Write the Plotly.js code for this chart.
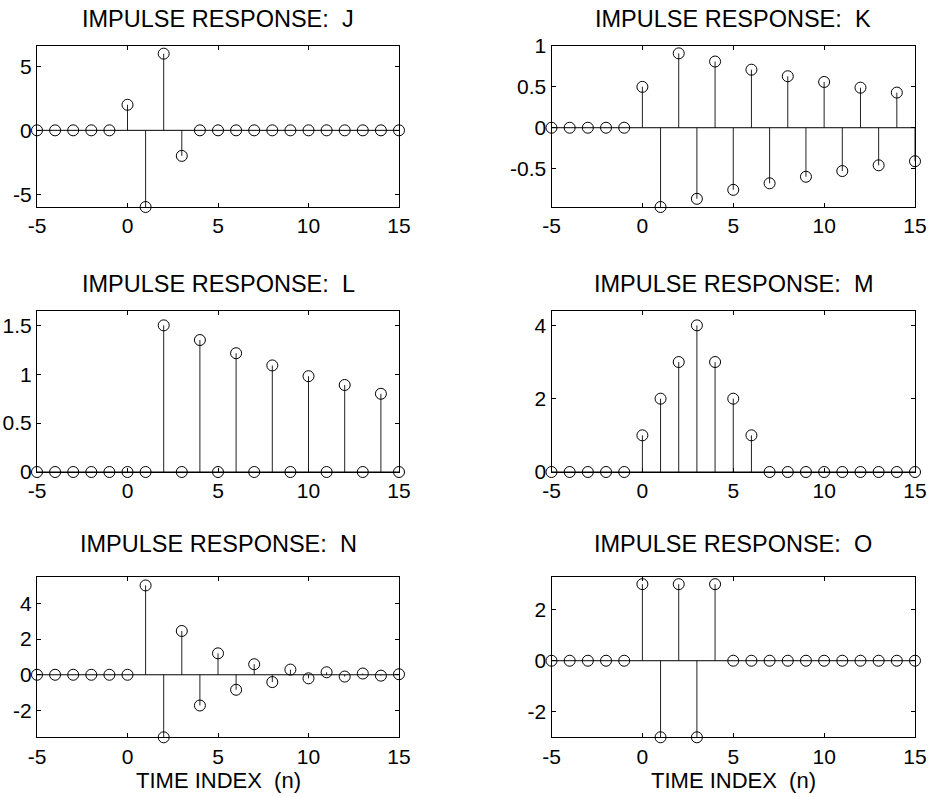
<!DOCTYPE html>
<html>
<head>
<meta charset="utf-8">
<script src="https://cdn.plot.ly/plotly-3.0.1.min.js"></script>
<style>html,body{margin:0;padding:0;background:#fff;}#chart{width:930px;height:797px;}</style>
</head>
<body>
<div id="chart"></div>
<script>
// Time index n = -5 .. 15
const n = [-5,-4,-3,-2,-1,0,1,2,3,4,5,6,7,8,9,10,11,12,13,14,15];

// Impulse responses
const hJ = [0,0,0,0,0, 2,-6,6,-2,0,0,0,0,0,0,0,0,0,0,0,0];
const hK = [0,0,0,0,0, 0.5,-0.97,0.91,-0.87,0.81,-0.76,0.71,-0.68,0.63,-0.6,0.56,-0.53,0.49,-0.46,0.43,-0.41];
const hL = [0,0,0,0,0, 0,0,1.5,0,1.35,0,1.215,0,1.09,0,0.98,0,0.89,0,0.8,0];
const hM = [0,0,0,0,0, 1,2,3,4,3,2,1,0,0,0,0,0,0,0,0,0];
const hN = [0,0,0,0,0, 0,5,-3.5,2.45,-1.72,1.2,-0.84,0.59,-0.41,0.29,-0.2,0.14,-0.1,0.07,-0.05,0.03];
const hO = [0,0,0,0,0, 3,-3,3,-3,3,0,0,0,0,0,0,0,0,0,0,0];

const panelNames = ['J','K','L','M','N','O'];
const titles = panelNames.map(p => 'IMPULSE RESPONSE:  ' + p);
const xLabel = 'TIME INDEX  (n)';

// tick values
const xTicks = [-5,0,5,10,15];
const yTicksJ = [-5,0,5];
const yTicksK = [-0.5,0,0.5,1];
const yTicksL = [0,0.5,1,1.5];
const yTicksM = [0,2,4];
const yTicksN = [-2,0,2,4];
const yTicksO = [-2,0,2];

// axis ranges
const yRangeJ = [-6,6.6];
const yRangeK = [-0.97,1.0];
const yRangeL = [0,1.65];
const yRangeM = [0,4.4];
const yRangeN = [-3.5,5.5];
const yRangeO = [-3,3.3];
const xRange = [-5,15];

const series = [hJ,hK,hL,hM,hN,hO];
const yTicks = [yTicksJ,yTicksK,yTicksL,yTicksM,yTicksN,yTicksO];
const yRanges = [yRangeJ,yRangeK,yRangeL,yRangeM,yRangeN,yRangeO];

const W = 930, H = 797;
const colPx = [[37,399],[551.5,915]];
const rowPx = [[46,207],[310.7,472],[576.5,737.3]];
const titleY = [19,283.5,543.7];
const xlabelY = 780;

const FONT = 'Liberation Sans, Arial, Helvetica, sans-serif';
const traces = [];
const layout = {
  width: W, height: H,
  margin: {l:0,r:0,t:0,b:0},
  paper_bgcolor: '#fff', plot_bgcolor: '#fff',
  showlegend: false,
  font: {family: FONT, color: '#000', size: 20},
  annotations: []
};

series.forEach((h, i) => {
  const r = Math.floor(i/2), c = i%2;
  const sfx = i === 0 ? '' : String(i+1);
  const xa = 'x' + sfx, ya = 'y' + sfx;
  // stems
  const sx = [], sy = [];
  n.forEach((v, k) => { if (h[k] !== 0) { sx.push(v, v, null); sy.push(0, h[k], null); } });
  traces.push({x: sx, y: sy, xaxis: xa, yaxis: ya, mode: 'lines', type: 'scatter',
    line: {color: '#222', width: 1}, hoverinfo: 'skip', cliponaxis: false});
  // baseline
  traces.push({x: [Math.min(...n), Math.max(...n)], y: [0,0], xaxis: xa, yaxis: ya, mode: 'lines', type: 'scatter',
    line: {color: '#000', width: 1}, hoverinfo: 'skip', cliponaxis: false});
  // markers
  traces.push({x: n, y: h, xaxis: xa, yaxis: ya, mode: 'markers', type: 'scatter',
    marker: {symbol: 'circle-open', size: 11, color: '#000', line: {color: '#000', width: 1}},
    cliponaxis: false});

  const xd = [colPx[c][0]/W, colPx[c][1]/W];
  const yd = [1 - rowPx[r][1]/H, 1 - rowPx[r][0]/H];
  const axCommon = {showline: true, linecolor: '#000', linewidth: 1, mirror: 'ticks',
    ticks: 'inside', ticklen: 4, tickcolor: '#000', tickwidth: 1,
    showgrid: false, zeroline: false, tickfont: {family: FONT, size: 21, color: '#000'}};
  layout['xaxis' + sfx] = Object.assign({}, axCommon, {
    domain: xd, range: xRange, anchor: ya, tickmode: 'array',
    tickvals: xTicks, ticktext: xTicks.map(String)});
  layout['yaxis' + sfx] = Object.assign({}, axCommon, {
    domain: yd, range: yRanges[i], anchor: xa, tickmode: 'array',
    tickvals: yTicks[i], ticktext: yTicks[i].map(String)});
  layout.annotations.push({text: titles[i], xref: 'paper', yref: 'paper',
    x: (xd[0]+xd[1])/2, y: 1 - titleY[r]/H, xanchor: 'center', yanchor: 'middle',
    showarrow: false, font: {family: FONT, size: 23.5, color: '#000'}});
  if (r === 2) {
    layout.annotations.push({text: xLabel, xref: 'paper', yref: 'paper',
      x: (xd[0]+xd[1])/2, y: 1 - xlabelY/H, xanchor: 'center', yanchor: 'middle',
      showarrow: false, font: {family: FONT, size: 22, color: '#000'}});
  }
});

Plotly.newPlot('chart', traces, layout, {staticPlot: true});
</script>
</body>
</html>
